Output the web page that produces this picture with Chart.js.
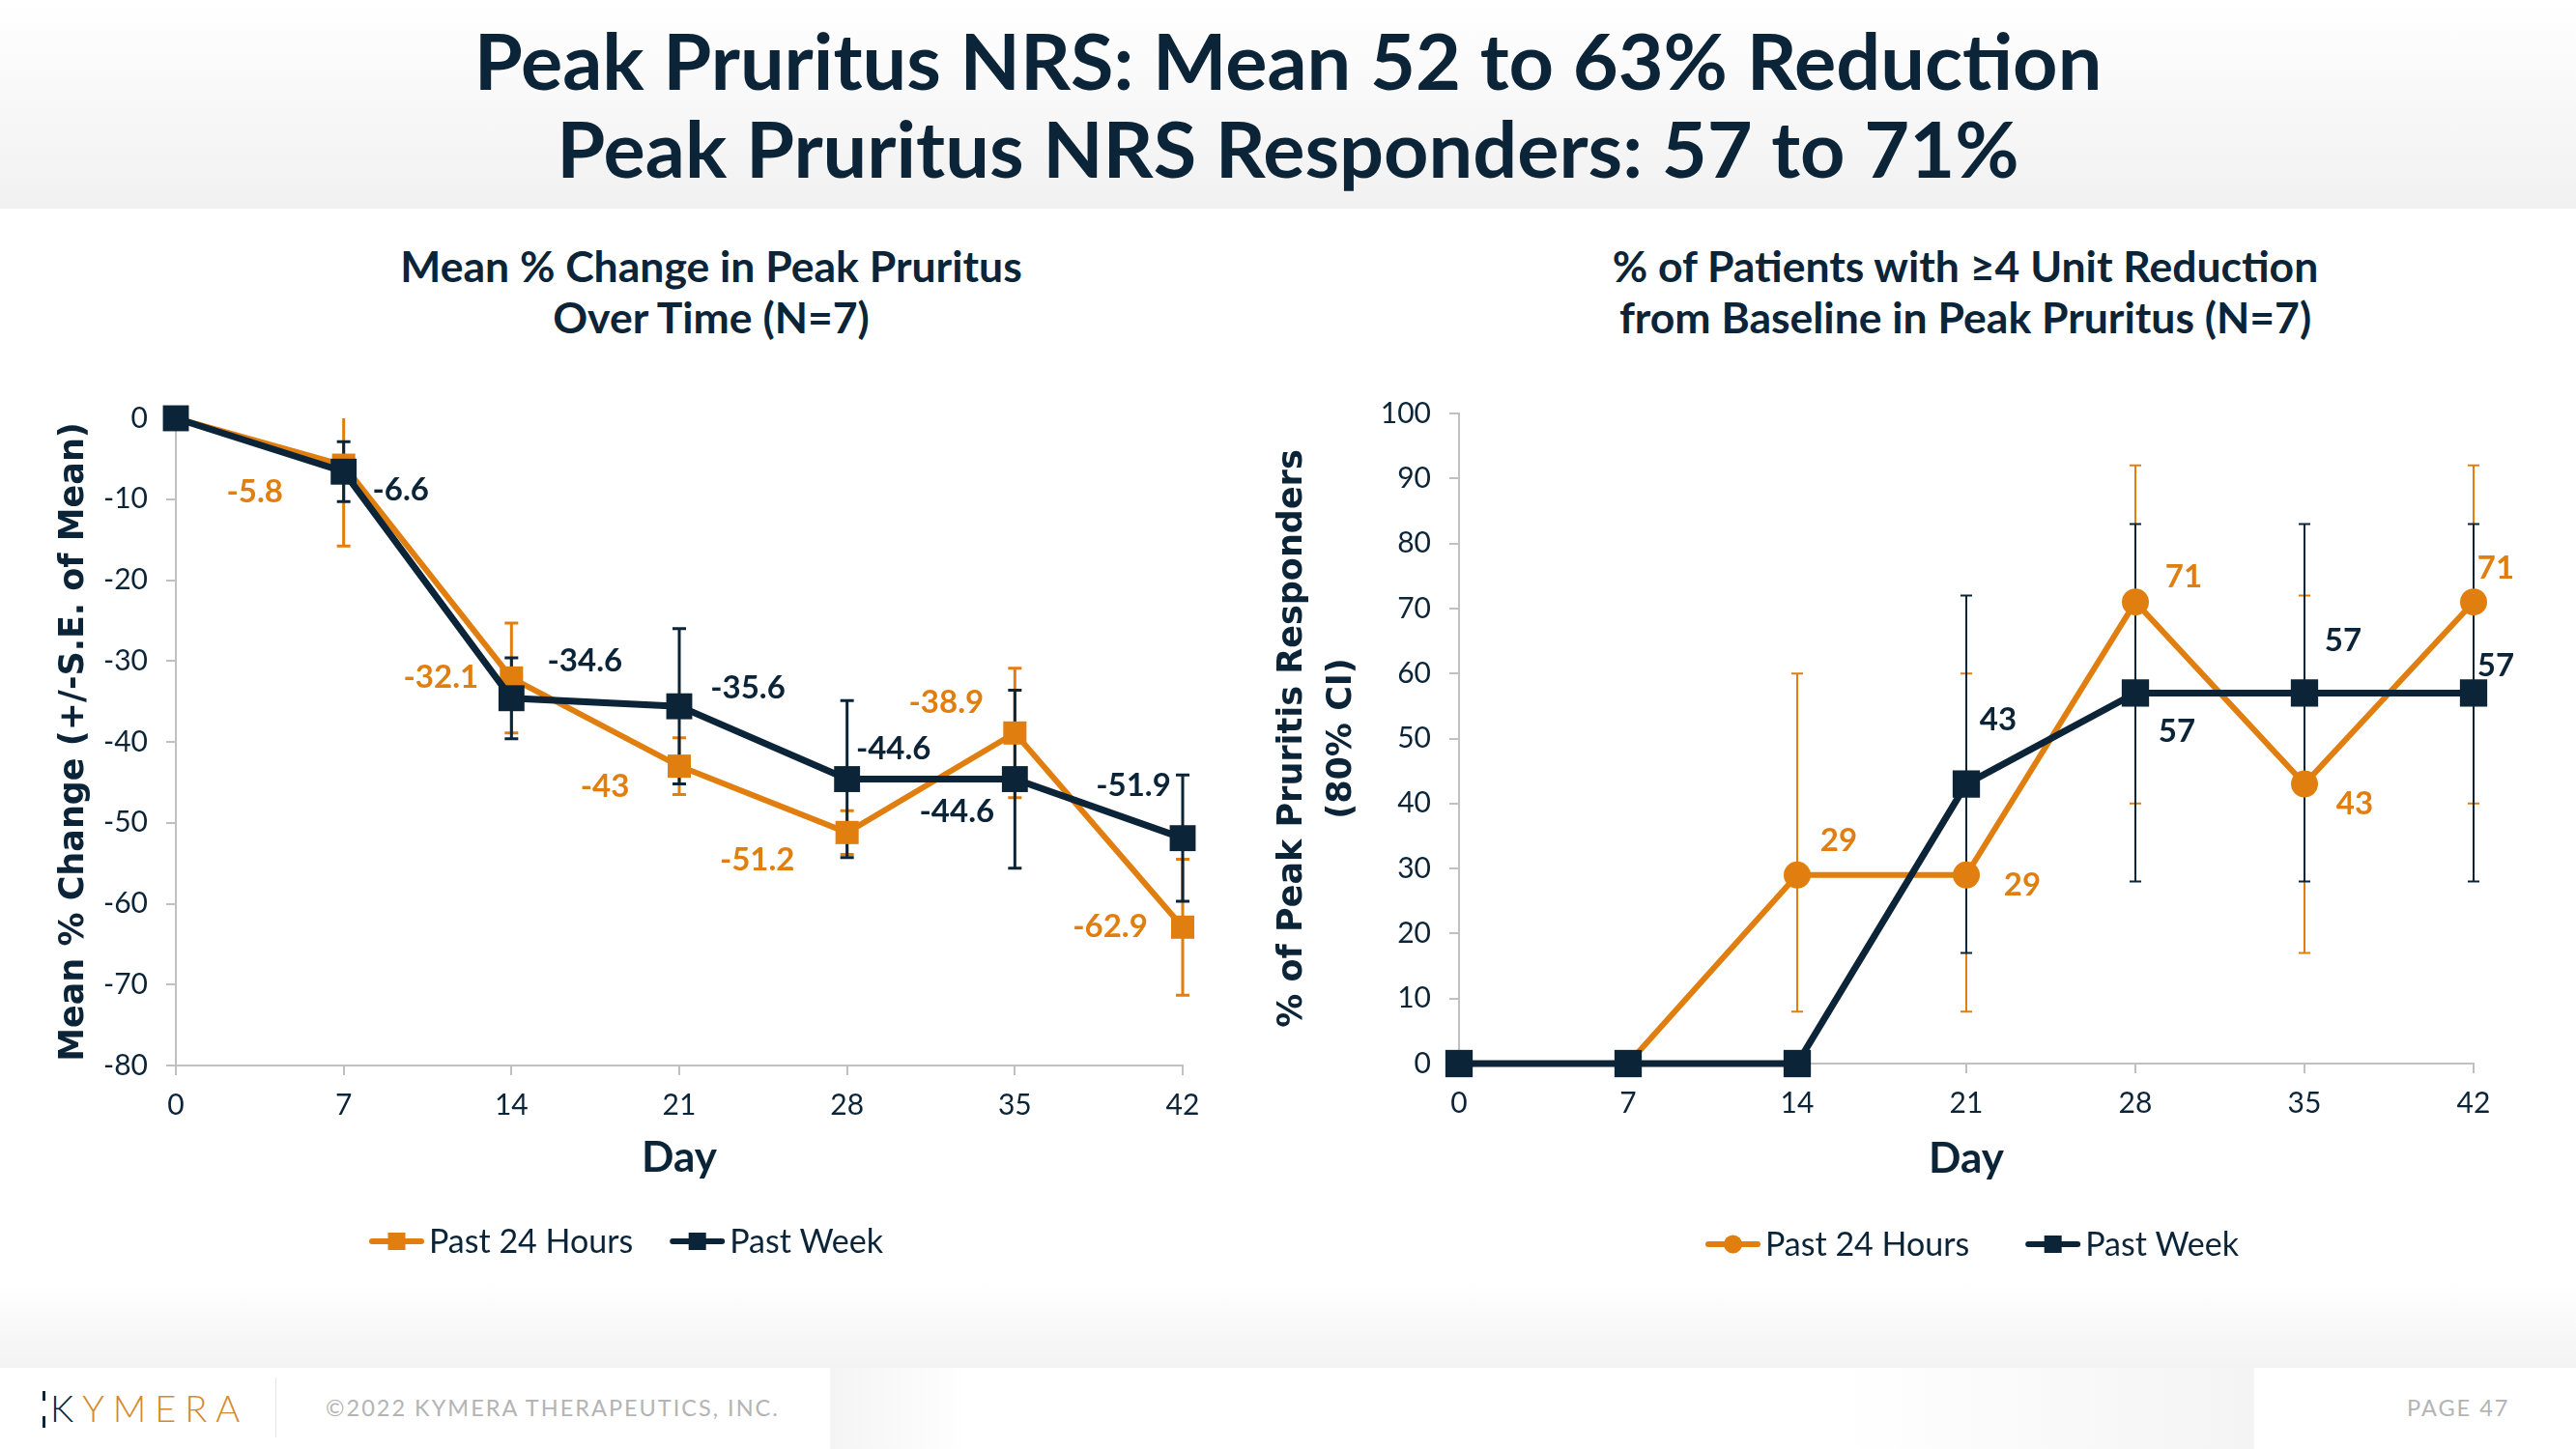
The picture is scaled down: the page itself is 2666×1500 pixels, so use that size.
<!DOCTYPE html>
<html>
<head>
<meta charset="utf-8">
<script src="https://cdn.jsdelivr.net/npm/chart.js@4.4.0/dist/chart.umd.min.js"></script>
<style>
  body { margin: 0; width: 2666px; height: 1500px; position: relative; overflow: hidden; background: #fff; font-family: Lato, sans-serif; color: #0b2438; }
  .band-top { position: absolute; left: 0; top: 0; width: 2666px; height: 216px; background: linear-gradient(#ffffff, #f1f1f1); }
  .band-bottom { position: absolute; left: 0; top: 1326px; width: 2666px; height: 90px; background: linear-gradient(#ffffff, #f3f3f3); }
  .patch1 { position: absolute; left: 859px; top: 1416px; width: 144px; height: 84px; background: linear-gradient(90deg, #f4f4f4, #ffffff); }
  .patch2 { position: absolute; left: 1905px; top: 1416px; width: 428px; height: 84px; background: linear-gradient(90deg, #ffffff, #f4f4f4); }
  #title { position: absolute; left: 0; top: 16px; width: 2666px; text-align: center; font-weight: bold; font-size: 81px; line-height: 91px; color: #0b2438; }
  .sub { position: absolute; top: 248px; width: 1000px; text-align: center; font-weight: bold; font-size: 44.5px; line-height: 53px; color: #0b2438; }
  canvas { position: absolute; }
  .logo { position: absolute; left: 52px; top: 1432px; font-size: 38px; letter-spacing: 9px; font-weight: 300; line-height: 50px; }
  .logo .k { color: #0b2438; }
  .logo .rest { color: #d4892a; }
  .tick1 { position: absolute; left: 44px; top: 1440px; width: 3px; height: 10px; background: #0b2438; }
  .tick2 { position: absolute; left: 44px; top: 1466px; width: 3px; height: 12px; background: #0b2438; }
  .sep { position: absolute; left: 285px; top: 1426px; width: 1px; height: 62px; background: #e6e6e6; }
  .foot { position: absolute; top: 1443px; font-size: 23.5px; letter-spacing: 2px; color: #b4b4b4; line-height: 28px; }
</style>
</head>
<body>
<div class="band-top"></div>
<div class="band-bottom"></div>
<div class="patch1"></div>
<div class="patch2"></div>
<div id="title">Peak Pruritus NRS: Mean 52 to 63% Reduction<br>Peak Pruritus NRS Responders: 57 to 71%</div>
<div class="sub" style="left:236px">Mean % Change in Peak Pruritus<br>Over Time (N=7)</div>
<div class="sub" style="left:1534px">% of Patients with ≥4 Unit Reduction<br>from Baseline in Peak Pruritus (N=7)</div>

<canvas id="left" width="1300" height="960" style="left:0px;top:380px"></canvas>
<canvas id="right" width="1386" height="960" style="left:1280px;top:380px"></canvas>

<div class="tick1"></div><div class="tick2"></div>
<div class="logo"><span class="k">K</span><span class="rest">YMERA</span></div>
<div class="sep"></div>
<div class="foot" style="left:337px">©2022 KYMERA THERAPEUTICS, INC.</div>
<div class="foot" style="left:2491px">PAGE 47</div>

<script>
// ---- data ----
const days = [0, 7, 14, 21, 28, 35, 42];
const seriesNames = ['Past 24 Hours', 'Past Week'];

// mean % change in peak pruritus, with +/- S.E.
const meanChange24h = [0, -5.8, -32.1, -43, -51.2, -38.9, -62.9];
const meanChangeWeek = [0, -6.6, -34.6, -35.6, -44.6, -44.6, -51.9];
const meanSE24h = [0, 10, 6.8, 3.5, 2.7, 8, 8.4];
const meanSEWeek = [0, 3.7, 5, 9.6, 9.7, 11, 7.8];

// % responders with 80% CI
const responders24h = [0, 0, 29, 29, 71, 43, 71];
const respondersWeek = [0, 0, 0, 43, 57, 57, 57];
const ciLow24h = [null, null, 8, 8, 40, 17, 40];
const ciHigh24h = [null, null, 60, 60, 92, 72, 92];
const ciLowWeek = [null, null, null, 17, 28, 28, 28];
const ciHighWeek = [null, null, null, 72, 83, 83, 83];

const leftTicksY = { min: -80, max: 0, step: 10 };
const rightTicksY = { min: 0, max: 100, step: 10 };

// ---- styling ----
const NAVY = '#0b2438';
const ORANGE = '#e07f0f';
const AXIS = '#c0c0c0';

// pixel offsets of the value labels from their points
const leftOffsets24h = [null, [-92, 28], [-73, 0], [-77, 21], [-93, 29], [-71, -31], [-75, 0]];
const leftOffsetsWeek = [null, [59, 19], [76, -38], [71, -19], [48, -31], [-60, 34], [-51, -54]];
const rightOffsets24h = [null, null, [43, -35], [58, 11], [50, -26], [52, 21], [23, -35]];
const rightOffsetsWeek = [null, null, null, [33, -66], [43, 40], [40, -54], [23, -28]];

const pts = arr => days.map((d, i) => ({ x: d, y: arr[i] }));

// error bars, clipped to the plot area like the original
const errorBars = {
  id: 'errorBars',
  beforeDatasetsDraw(chart) {
    const ctx = chart.ctx, ys = chart.scales.y, a = chart.chartArea;
    ctx.save();
    ctx.beginPath();
    ctx.rect(a.left - 20, a.top, a.right - a.left + 40, a.bottom - a.top);
    ctx.clip();
    chart.data.datasets.forEach((ds, i) => {
      if (!ds.errLow) return;
      const meta = chart.getDatasetMeta(i);
      ctx.strokeStyle = ds.borderColor;
      ctx.lineWidth = ds.errWidth;
      meta.data.forEach((p, j) => {
        const lo = ds.errLow[j], hi = ds.errHigh[j];
        if (lo == null || hi == null || lo === hi) return;
        const y1 = ys.getPixelForValue(lo), y2 = ys.getPixelForValue(hi);
        const c = ds.errCap;
        ctx.beginPath();
        ctx.moveTo(p.x, y1); ctx.lineTo(p.x, y2);
        ctx.moveTo(p.x - c, y1); ctx.lineTo(p.x + c, y1);
        ctx.moveTo(p.x - c, y2); ctx.lineTo(p.x + c, y2);
        ctx.stroke();
      });
    });
    ctx.restore();
  }
};

const valueLabels = {
  id: 'valueLabels',
  afterDatasetsDraw(chart) {
    const ctx = chart.ctx;
    ctx.save();
    ctx.font = 'bold 33px Lato';
    ctx.textAlign = 'center';
    ctx.textBaseline = 'middle';
    chart.data.datasets.forEach((ds, i) => {
      const meta = chart.getDatasetMeta(i);
      ctx.fillStyle = ds.borderColor;
      meta.data.forEach((p, j) => {
        const off = ds.labelOffsets[j];
        if (!off) return;
        ctx.fillText(String(ds.data[j].y), p.x + off[0], p.y + off[1]);
      });
    });
    ctx.restore();
  }
};

const lineLegend = {
  id: 'lineLegend',
  afterDraw(chart, args, opts) {
    const ctx = chart.ctx;
    ctx.save();
    ctx.font = '34px Lato';
    ctx.textBaseline = 'middle';
    ctx.textAlign = 'left';
    let x = opts.x;
    const y = chart.chartArea.bottom + opts.dy;
    chart.data.datasets.forEach(ds => {
      ctx.strokeStyle = ds.borderColor;
      ctx.fillStyle = ds.borderColor;
      ctx.lineWidth = 6;
      ctx.lineCap = 'round';
      ctx.beginPath();
      ctx.moveTo(x + 3, y); ctx.lineTo(x + 54, y);
      ctx.stroke();
      if (ds.pointStyle === 'circle') {
        ctx.beginPath(); ctx.arc(x + 28.5, y, 9.5, 0, Math.PI * 2); ctx.fill();
      } else {
        ctx.fillRect(x + 19.5, y - 9, 18, 18);
      }
      ctx.fillStyle = NAVY;
      ctx.fillText(ds.label, x + 62, y + 1);
      x += 62 + ctx.measureText(ds.label).width + opts.gap;
    });
    ctx.restore();
  }
};

function axes(yr, yTitle, yTitleFont, yTitlePad, yWidth, dayPad) {
  const tickFont = { family: 'Lato', size: 30 };
  const grid = { drawOnChartArea: false, drawTicks: true, tickLength: 10, color: AXIS, lineWidth: 2 };
  return {
    x: {
      type: 'linear', min: 0, max: 42,
      ticks: { stepSize: 7, font: tickFont, color: NAVY, padding: 13 },
      grid: grid,
      border: { color: AXIS, width: 2 },
      title: { display: true, text: 'Day', color: NAVY, font: { family: 'Lato', size: 44, weight: 'bold' }, padding: { top: 0, bottom: dayPad } },
      afterFit: s => { s.height = 130; }
    },
    y: {
      min: yr.min, max: yr.max,
      ticks: { stepSize: yr.step, font: tickFont, color: NAVY, padding: 19 },
      grid: grid,
      border: { color: AXIS, width: 2 },
      title: { display: true, text: yTitle, color: NAVY, font: yTitleFont, padding: { top: yTitlePad, bottom: 0 } },
      afterFit: s => { s.width = yWidth; }
    }
  };
}

new Chart(document.getElementById('left'), {
  type: 'line',
  data: {
    datasets: [{
      label: seriesNames[0],
      data: pts(meanChange24h),
      borderColor: ORANGE, backgroundColor: ORANGE,
      borderWidth: 6, pointStyle: 'rect', pointRadius: 17, pointBorderWidth: 0,
      order: 1, clip: false,
      errLow: meanChange24h.map((v, i) => v - meanSE24h[i]),
      errHigh: meanChange24h.map((v, i) => v + meanSE24h[i]),
      errWidth: 3, errCap: 7,
      labelOffsets: leftOffsets24h
    }, {
      label: seriesNames[1],
      data: pts(meanChangeWeek),
      borderColor: NAVY, backgroundColor: NAVY,
      borderWidth: 7, pointStyle: 'rect', pointRadius: 19, pointBorderWidth: 0,
      order: 0, clip: false,
      errLow: meanChangeWeek.map((v, i) => v - meanSEWeek[i]),
      errHigh: meanChangeWeek.map((v, i) => v + meanSEWeek[i]),
      errWidth: 3, errCap: 7,
      labelOffsets: leftOffsetsWeek
    }]
  },
  options: {
    responsive: false,
    animation: false,
    layout: { padding: { top: 53, right: 76, bottom: 107, left: 0 } },
    scales: axes(leftTicksY, 'Mean % Change (+/-S.E. of Mean)',
      { family: 'DejaVu Sans', size: 35, weight: 'bold', lineHeight: 1.2 }, 56, 182, 8),
    plugins: {
      legend: { display: false },
      tooltip: { enabled: false },
      lineLegend: { x: 382, dy: 182, gap: 38 }
    }
  },
  plugins: [errorBars, valueLabels, lineLegend]
});

new Chart(document.getElementById('right'), {
  type: 'line',
  data: {
    datasets: [{
      label: seriesNames[0],
      data: pts(responders24h),
      borderColor: ORANGE, backgroundColor: ORANGE,
      borderWidth: 6, pointStyle: 'circle', pointRadius: 14, pointBorderWidth: 0,
      order: 1, clip: false,
      errLow: ciLow24h, errHigh: ciHigh24h,
      errWidth: 2, errCap: 6,
      labelOffsets: rightOffsets24h
    }, {
      label: seriesNames[1],
      data: pts(respondersWeek),
      borderColor: NAVY, backgroundColor: NAVY,
      borderWidth: 7, pointStyle: 'rect', pointRadius: 20, pointBorderWidth: 0,
      order: 0, clip: false,
      errLow: ciLowWeek, errHigh: ciHighWeek,
      errWidth: 2, errCap: 6,
      labelOffsets: rightOffsetsWeek
    }]
  },
  options: {
    responsive: false,
    animation: false,
    layout: { padding: { top: 48, right: 106, bottom: 109, left: 0 } },
    scales: axes(rightTicksY, ['% of Peak Pruritis Responders', '(80% CI)'],
      { family: 'DejaVu Sans', size: 35, weight: 'bold', lineHeight: 1.46 }, 32, 230, 5),
    plugins: {
      legend: { display: false },
      tooltip: { enabled: false },
      lineLegend: { x: 485, dy: 187, gap: 58 }
    }
  },
  plugins: [errorBars, valueLabels, lineLegend]
});
</script>
</body>
</html>
